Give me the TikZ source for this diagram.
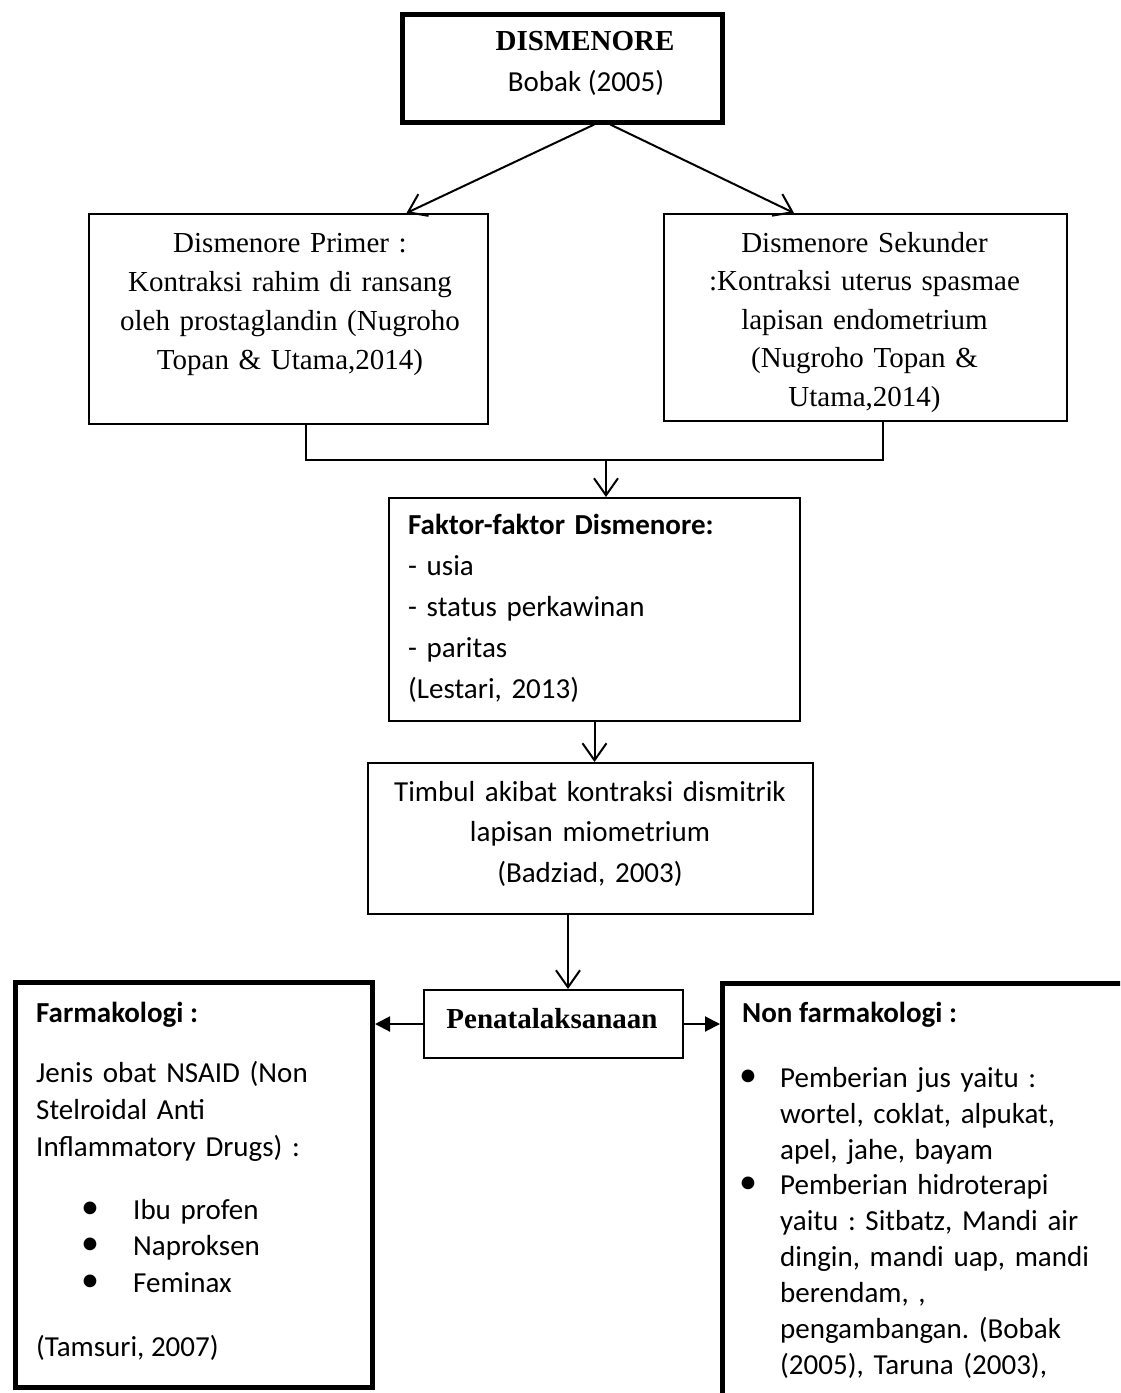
\documentclass[tikz,border=0pt]{standalone}
\usepackage{fontspec}
\setmainfont{Carlito}
\newfontfamily\tnr{Liberation Serif}
\usetikzlibrary{arrows.meta,calc}
\frenchspacing
\begin{document}
\begin{tikzpicture}[x=1pt,y=-1pt,
  thinbox/.style={draw,line width=2pt,inner sep=0,anchor=north west},
  thickbox/.style={draw,line width=4.5pt,inner sep=0,anchor=north west},
  txt/.style={inner sep=0,font=\frenchspacing\fontsize{29}{37}\selectfont},
  bul/.style={inner sep=0,anchor=center,font=\fontsize{36}{36}\selectfont},
  arr/.style={line width=2pt,-{Straight Barb[length=17pt,width=24pt,line width=2pt]}},
  farr/.style={line width=2pt,-{Triangle[length=15pt,width=15pt]}}]
\useasboundingbox (0,0) rectangle (1120,1393);
\clip (0,0) rectangle (1120,1393);
% boxes
\node[thickbox,minimum width=320,minimum height=108] (top) at (400,12) {};
\node[thinbox,minimum width=399,minimum height=210] (prim) at (88,213) {};
\node[thinbox,minimum width=403,minimum height=207] (sek) at (663,213) {};
\node[thinbox,minimum width=411,minimum height=223] (fak) at (388,497) {};
\node[thinbox,minimum width=445,minimum height=151] (tim) at (367,762) {};
\node[thinbox,minimum width=259,minimum height=68] (pen) at (423,989) {};
\node[thickbox,line width=5pt,minimum width=357,minimum height=405] (farm) at (13,980) {};
\node[thickbox,line width=5pt,minimum width=450,minimum height=500] (nonf) at (720,981) {};
% connectors
\draw[arr] ($(top.south)+(32,0)$) -- ($(prim.north)+(118,0)$);
\draw[arr] ($(top.south)+(48,0)$) -- ($(sek.north)+(-71.5,0)$);
\coordinate (jn) at (606,460);
\draw[line width=2pt] ($(prim.south)+(17.5,0)$) |- (jn) -| ($(sek.south)+(17.5,0)$);
\draw[arr] (jn) -- (jn |- fak.north);
\draw[arr] (fak.south) -- (fak.south |- tim.north);
\coordinate (ta) at ($(tim.south)+(-22.5,0)$);
\draw[arr] (ta) -- (ta |- pen.north);
\draw[farr] (pen.west) -- (pen.west -| farm.east);
\draw[farr] (pen.east) -- (pen.east -| nonf.west);
% texts
\node[txt,anchor=base,font=\tnr\bfseries\fontsize{29}{29}\selectfont] (ttl) at (585,50) {DISMENORE};
\node[txt,anchor=base] (bob) at (586,91) {Bobak (2005)};
\node[txt,anchor=north,align=center,text width=400,font=\tnr\fontsize{29}{39}\selectfont] (primt) at (290,224.7) {\strut Dismenore Primer :\\Kontraksi rahim di ransang\\oleh prostaglandin (Nugroho\\Topan \& Utama,2014)};
\node[txt,anchor=north,align=center,text width=400,font=\tnr\fontsize{29}{38.5}\selectfont] (sekt) at (864.5,225) {\strut Dismenore Sekunder\\:Kontraksi uterus spasmae\\lapisan endometrium\\(Nugroho Topan \&\\Utama,2014)};
\node[txt,anchor=north west,align=left,text width=390,font=\fontsize{29}{41}\selectfont] (fakt) at (408,506) {\strut\textbf{Faktor-faktor Dismenore:}\\- usia\\- status perkawinan\\- paritas\\(Lestari, 2013)};
\node[txt,anchor=north,align=center,text width=440,font=\fontsize{29}{40.5}\selectfont] (timt) at (590,772.65) {\strut Timbul akibat kontraksi dismitrik\\lapisan miometrium\\(Badziad, 2003)};
\node[txt,anchor=base,font=\tnr\bfseries\fontsize{29}{29}\selectfont] (pent) at (552,1028) {Penatalaksanaan};
% farmakologi
\node[txt,anchor=base west,font=\bfseries\fontsize{29}{29}\selectfont] (fh) at (36,1022) {Farmakologi :};
\node[txt,anchor=north west,align=left,text width=320] (fj) at (36,1056.1) {\strut Jenis obat NSAID (Non\\Stelroidal Anti\\Inflammatory Drugs) :};
\node[txt,anchor=north west,align=left,text width=220,font=\fontsize{29}{36.5}\selectfont] (fi) at (133,1193.45) {\strut Ibu profen\\Naproksen\\Feminax};
\node[bul] (fb1) at (90,1210) {•};
\node[bul] (fb2) at (90,1246.5) {•};
\node[bul] (fb3) at (90,1283) {•};
\node[txt,anchor=base west] (ft) at (36,1356) {(Tamsuri, 2007)};
% non farmakologi
\node[txt,anchor=base west,font=\bfseries\fontsize{29}{29}\selectfont] (nh) at (742,1022) {Non farmakologi :};
\node[txt,anchor=north west,align=left,text width=330,font=\fontsize{29}{35.9}\selectfont] (ni) at (780,1061.9) {\strut Pemberian jus yaitu :\\wortel, coklat, alpukat,\\apel, jahe, bayam\\Pemberian hidroterapi\\yaitu : Sitbatz, Mandi air\\dingin, mandi uap, mandi\\berendam, ,\\pengambangan. (Bobak\\(2005), Taruna (2003),};
\node[bul] (nb1) at (748,1078) {•};
\node[bul] (nb2) at (748,1185.7) {•};
\end{tikzpicture}
\end{document}
